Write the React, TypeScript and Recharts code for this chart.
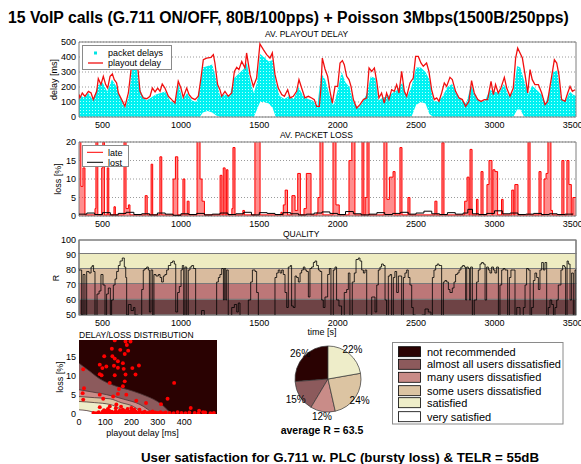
import {
  Area,
  CartesianGrid,
  Cell,
  ComposedChart,
  Line,
  Pie,
  PieChart,
  ReferenceArea,
  Scatter,
  XAxis,
  YAxis,
  ZAxis,
} from "recharts";

const FONT = "'Liberation Sans', Arial, Helvetica, sans-serif";

const TIME_TICKS = [500, 1000, 1500, 2000, 2500, 3000, 3500];
const DELAY_TICKS = [0, 100, 200, 300, 400, 500];
const LOSS_TICKS = [0, 5, 10, 15, 20];
const R_TICKS = [50, 60, 70, 80, 90, 100];
const DIST_X_TICKS = [0, 100, 200, 300, 400];
const DIST_Y_TICKS = [0, 5, 10, 15];

// [time s, playout delay ms]
const PLAYOUT = [
  [350, 150], [356, 127], [371, 160], [388, 138], [410, 171], [427, 160], [441, 116], [463, 171],
  [473, 256], [490, 216], [505, 271], [520, 216], [533, 193], [548, 271], [563, 287], [575, 249],
  [590, 227], [601, 160], [622, 116], [643, 71], [665, 160], [682, 316], [697, 380], [712, 400],
  [728, 300], [739, 171], [760, 127], [782, 122], [803, 138], [818, 193], [835, 167], [852, 193],
  [867, 171], [881, 220], [898, 193], [920, 138], [941, 116], [962, 93], [983, 238], [1000, 193],
  [1015, 131], [1037, 193], [1052, 149], [1069, 127], [1090, 116], [1111, 138], [1128, 260],
  [1143, 382], [1164, 393], [1192, 398], [1207, 416], [1217, 360], [1234, 216], [1249, 182],
  [1260, 138], [1281, 171], [1302, 138], [1324, 160], [1341, 304], [1356, 331], [1370, 316],
  [1388, 371], [1409, 327], [1419, 427], [1441, 282], [1462, 204], [1483, 260], [1504, 487],
  [1526, 449], [1547, 416], [1568, 393], [1583, 427], [1600, 282], [1621, 193], [1643, 149],
  [1660, 138], [1681, 182], [1696, 127], [1717, 138], [1738, 171], [1753, 249], [1770, 193],
  [1791, 127], [1813, 138], [1834, 127], [1851, 116], [1866, 71], [1883, 71], [1893, 193],
  [1902, 393], [1919, 320], [1936, 271], [1951, 171], [1966, 93], [1983, 204], [2000, 204],
  [2015, 360], [2030, 376], [2042, 349], [2057, 271], [2072, 249], [2085, 204], [2100, 116],
  [2121, 60], [2142, 82], [2164, 116], [2185, 127], [2200, 327], [2217, 304], [2234, 327],
  [2249, 238], [2263, 127], [2280, 160], [2297, 93], [2312, 160], [2327, 116], [2344, 182],
  [2361, 171], [2376, 216], [2391, 160], [2408, 304], [2425, 171], [2440, 138], [2461, 227],
  [2482, 260], [2497, 404], [2514, 404], [2531, 360], [2546, 338], [2567, 360], [2582, 304],
  [2599, 182], [2616, 116], [2631, 127], [2646, 104], [2663, 160], [2680, 227], [2695, 204],
  [2716, 264], [2731, 249], [2752, 171], [2774, 127], [2795, 116], [2816, 71], [2837, 104],
  [2854, 242], [2871, 160], [2893, 116], [2914, 104], [2935, 116], [2956, 116], [2978, 238],
  [2993, 149], [3007, 216], [3024, 160], [3041, 193], [3063, 264], [3078, 193], [3099, 138],
  [3120, 193], [3135, 393], [3148, 460], [3163, 427], [3178, 393], [3195, 282], [3212, 160],
  [3227, 316], [3241, 249], [3258, 216], [3280, 216], [3301, 160], [3322, 82], [3339, 104],
  [3354, 204], [3365, 271], [3382, 382], [3397, 360], [3411, 282], [3428, 116], [3450, 104],
  [3467, 160], [3482, 204], [3497, 171], [3514, 182],
];

// [time s, lowest packet delay ms, highest packet delay ms]
const PACKETS = [
  [350, 0, 150], [380, 0, 130], [410, 0, 160], [440, 0, 110], [470, 0, 210], [500, 0, 230],
  [530, 0, 170], [560, 0, 250], [590, 0, 200], [620, 0, 110], [645, 0, 60], [670, 0, 150],
  [690, 0, 350], [710, 0, 390], [730, 0, 240], [750, 0, 150], [780, 0, 110], [810, 0, 130],
  [840, 0, 150], [870, 0, 160], [900, 0, 170], [930, 0, 110], [960, 0, 90], [985, 0, 220],
  [1010, 0, 120], [1040, 0, 160], [1070, 0, 110], [1100, 0, 100], [1120, 0, 200], [1140, 30, 330],
  [1170, 40, 340], [1200, 30, 350], [1225, 10, 250], [1250, 0, 140], [1280, 0, 150], [1310, 0, 140],
  [1340, 0, 260], [1370, 0, 290], [1400, 0, 320], [1420, 0, 360], [1445, 0, 230], [1465, 0, 160],
  [1485, 50, 230], [1505, 100, 420], [1530, 100, 400], [1560, 90, 370], [1585, 60, 380],
  [1605, 0, 230], [1630, 0, 140], [1660, 0, 120], [1690, 0, 140], [1720, 0, 120], [1750, 0, 200],
  [1780, 0, 140], [1810, 0, 120], [1840, 0, 110], [1870, 0, 70], [1895, 0, 290], [1920, 0, 250],
  [1950, 0, 140], [1975, 0, 80], [2000, 0, 180], [2025, 0, 300], [2050, 0, 230], [2075, 0, 200],
  [2100, 0, 100], [2130, 0, 60], [2160, 0, 100], [2190, 0, 170], [2210, 0, 270], [2240, 0, 260],
  [2260, 0, 110], [2290, 0, 130], [2320, 0, 140], [2350, 0, 160], [2380, 0, 180], [2410, 0, 230],
  [2440, 0, 130], [2470, 0, 200], [2500, 80, 330], [2530, 100, 330], [2560, 90, 300],
  [2585, 20, 250], [2610, 0, 110], [2640, 0, 100], [2670, 0, 140], [2700, 0, 200], [2730, 0, 220],
  [2760, 0, 150], [2790, 0, 110], [2820, 0, 90], [2850, 0, 210], [2880, 0, 140], [2910, 0, 100],
  [2940, 0, 110], [2970, 0, 180], [3000, 0, 170], [3030, 0, 160], [3060, 0, 220], [3090, 0, 140],
  [3120, 0, 170], [3145, 50, 340], [3165, 50, 330], [3190, 0, 240], [3215, 0, 150], [3240, 0, 210],
  [3270, 0, 180], [3300, 0, 150], [3325, 0, 90], [3350, 0, 170], [3375, 0, 300], [3400, 0, 310],
  [3425, 0, 120], [3455, 0, 110], [3480, 0, 170], [3500, 0, 150], [3520, 0, 140],
];

// [time s, late loss %] (value holds until next time)
const LATE = [
  [350, 25], [362, 8], [375, 13], [388, 0.3], [452, 2], [458, 25], [470, 0.3], [495, 13],
  [502, 25], [512, 0.3], [530, 13], [540, 0.3], [573, 2.5], [582, 0.3], [637, 25], [650, 2],
  [665, 3], [675, 0.3], [772, 5.5], [785, 0.3], [810, 14], [820, 0.3], [866, 16], [878, 0.3],
  [950, 10], [965, 16], [980, 0.3], [1013, 10], [1025, 0.3], [1040, 4], [1052, 0.3], [1103, 25],
  [1122, 10], [1135, 4], [1150, 0.3], [1250, 11], [1262, 0.3], [1270, 13], [1282, 0.3],
  [1290, 12.5], [1300, 0.3], [1325, 2], [1332, 18.5], [1345, 0.3], [1395, 1.5], [1405, 0.3],
  [1472, 25], [1505, 0.3], [1638, 1], [1645, 0.3], [1653, 3], [1665, 7], [1680, 0.3], [1708, 5.5],
  [1728, 1.5], [1745, 11.5], [1762, 0.3], [1785, 2], [1800, 11.5], [1830, 0.3], [1868, 1],
  [1874, 5], [1887, 25], [1906, 0.3], [1970, 25], [1989, 3], [2010, 0.3], [2072, 15], [2090, 25],
  [2110, 0.3], [2155, 25], [2167, 0.3], [2175, 5], [2187, 25], [2200, 0.3], [2295, 25],
  [2314, 4.5], [2330, 10.5], [2353, 12], [2366, 0.3], [2397, 18.5], [2410, 0.3], [2448, 5],
  [2461, 0.3], [2620, 4], [2633, 0.3], [2665, 19.8], [2678, 0.3], [2810, 4], [2825, 10.5],
  [2838, 0.3], [2844, 18], [2857, 0.3], [2885, 4.5], [2895, 0.3], [2914, 12], [2927, 0.3],
  [2952, 8.5], [2965, 15], [2984, 0.3], [2990, 12.5], [3003, 12], [3020, 0.3], [3045, 4.5],
  [3055, 0.3], [3110, 7], [3123, 0.3], [3130, 8.5], [3150, 0.3], [3214, 25], [3227, 0.3],
  [3284, 12], [3297, 0.3], [3316, 10], [3329, 11.5], [3341, 25], [3360, 1.5], [3370, 0.3],
  [3430, 15], [3443, 0.3], [3462, 15], [3475, 8.5], [3490, 0.3], [3500, 5], [3520, 5],
];

// [time s, lost %]
const LOST = [
  [350, 0.5], [400, 0.8], [450, 0.4], [500, 0.9], [550, 0.3], [600, 0.7], [650, 1.0], [700, 0.4],
  [750, 0.6], [800, 0.3], [850, 0.8], [900, 0.5], [950, 0.2], [1000, 0.6], [1050, 0.4], [1100, 0.7],
  [1150, 0.3], [1200, 0.5], [1250, 0.8], [1300, 0.4], [1350, 0.6], [1400, 1.0], [1450, 0.3],
  [1500, 0.9], [1550, 0.7], [1600, 0.4], [1650, 0.9], [1700, 0.6], [1750, 0.3], [1800, 0.5],
  [1850, 0.8], [1900, 1.1], [1950, 0.7], [2000, 0.4], [2050, 1.2], [2100, 0.6], [2150, 0.3],
  [2200, 0.5], [2250, 0.9], [2300, 0.4], [2350, 0.7], [2400, 1.0], [2450, 0.5], [2500, 0.8],
  [2550, 1.3], [2600, 0.6], [2650, 0.4], [2700, 0.9], [2750, 0.5], [2800, 0.8], [2830, 1.8],
  [2860, 0.6], [2900, 0.4], [2950, 0.7], [3000, 1.4], [3050, 0.6], [3100, 0.8], [3150, 0.4],
  [3200, 0.5], [3250, 0.7], [3300, 0.4], [3350, 0.6], [3400, 0.4], [3450, 0.5], [3500, 0.6],
];

// [time s, R factor]
const QUALITY = [
  [350, 80], [367, 50], [376, 77], [388, 45], [399, 79], [414, 78], [427, 82], [435, 83], [443, 79],
  [452, 45], [465, 64], [478, 66], [490, 77], [503, 70], [516, 45], [526, 64], [537, 68], [550, 45],
  [558, 60], [569, 70], [580, 74], [590, 79], [601, 83], [612, 86], [626, 88], [639, 82], [648, 75],
  [654, 50], [665, 57], [682, 53], [697, 55], [707, 50], [728, 45], [750, 67], [760, 80], [771, 81],
  [782, 82], [792, 80], [799, 52], [809, 80], [820, 45], [828, 77], [841, 76], [856, 77], [867, 75],
  [877, 72], [888, 76], [898, 77], [909, 80], [920, 83], [935, 85], [947, 86], [958, 84], [967, 52],
  [979, 65], [990, 69], [1001, 80], [1009, 83], [1018, 45], [1026, 82], [1037, 45], [1047, 80],
  [1058, 82], [1069, 83], [1081, 81], [1094, 45], [1132, 53], [1149, 45], [1228, 72], [1239, 75],
  [1249, 77], [1260, 81], [1271, 60], [1277, 81], [1286, 60], [1292, 80], [1302, 45], [1324, 55],
  [1341, 57], [1356, 52], [1366, 58], [1377, 45], [1430, 60], [1445, 72], [1456, 80], [1473, 79],
  [1483, 65], [1494, 45], [1600, 75], [1611, 78], [1621, 80], [1632, 78], [1643, 80], [1653, 77],
  [1664, 65], [1675, 55], [1685, 82], [1698, 83], [1706, 56], [1717, 55], [1728, 76], [1738, 75],
  [1749, 72], [1760, 78], [1770, 80], [1781, 82], [1791, 80], [1802, 79], [1813, 62], [1823, 81],
  [1834, 82], [1845, 85], [1855, 86], [1866, 83], [1877, 80], [1887, 79], [1898, 60], [1908, 55],
  [1919, 62], [1936, 77], [1947, 81], [1957, 45], [1972, 80], [1983, 82], [1993, 60], [2008, 56],
  [2025, 45], [2042, 65], [2057, 67], [2068, 78], [2078, 45], [2093, 72], [2106, 78], [2117, 87],
  [2132, 88], [2142, 86], [2153, 80], [2164, 78], [2174, 80], [2185, 45], [2217, 62], [2238, 52],
  [2249, 70], [2259, 80], [2270, 82], [2280, 84], [2291, 83], [2302, 60], [2312, 45], [2323, 76],
  [2334, 77], [2344, 45], [2355, 75], [2365, 79], [2376, 65], [2387, 76], [2408, 45], [2419, 75],
  [2429, 78], [2440, 80], [2450, 75], [2461, 70], [2472, 55], [2482, 50], [2497, 45], [2536, 50],
  [2557, 54], [2578, 52], [2595, 45], [2604, 75], [2614, 80], [2625, 83], [2635, 84], [2646, 83],
  [2663, 45], [2674, 72], [2684, 73], [2695, 72], [2706, 67], [2716, 65], [2731, 68], [2742, 72],
  [2752, 77], [2763, 78], [2774, 80], [2786, 82], [2797, 83], [2808, 82], [2816, 60], [2823, 82],
  [2833, 81], [2840, 60], [2848, 82], [2859, 45], [2871, 60], [2886, 72], [2897, 80], [2908, 84],
  [2918, 85], [2929, 84], [2940, 60], [2950, 82], [2961, 80], [2971, 78], [2982, 82], [2993, 80],
  [3003, 78], [3014, 82], [3025, 45], [3035, 70], [3046, 80], [3056, 81], [3067, 80], [3084, 45],
  [3095, 75], [3105, 80], [3120, 80], [3131, 45], [3142, 55], [3152, 55], [3163, 45], [3184, 55],
  [3195, 70], [3205, 81], [3216, 80], [3227, 45], [3237, 55], [3248, 73], [3258, 78], [3269, 75],
  [3280, 67], [3290, 80], [3301, 85], [3312, 80], [3322, 85], [3333, 45], [3343, 55], [3354, 60],
  [3365, 57], [3376, 45], [3386, 55], [3397, 60], [3407, 70], [3424, 80], [3435, 83], [3446, 82],
  [3454, 45], [3463, 86], [3471, 84], [3482, 60], [3492, 78], [3503, 45], [3514, 80], [3520, 80],
];

// R band limits (bottom to top)
const R_BANDS = [50, 60.5, 71, 81, 91, 100];

// contour boundaries of the delay/loss map: [delay ms, loss %]
const CONTOUR_ALMOST = [[0, 13.4], [40, 11.3], [80, 9.2], [130, 7.6], [206, 6.0], [260, 4.6], [307, 2.9], [335, 1.2], [352, 0]];
const CONTOUR_MANY = [[0, 6.4], [50, 5.8], [105, 5.1], [170, 3.9], [232, 2.5], [260, 1.3], [282, 0]];
const CONTOUR_SOME = [[0, 4.6], [60, 4.3], [118, 4.0], [160, 3.0], [206, 2.0], [230, 0.9], [244, 0]];
const CONTOUR_SAT = [[0, 3.3], [60, 3.0], [118, 2.5], [155, 1.4], [181, 0]];
const CONTOUR_VERY = [[0, 1.1], [30, 0.9], [54, 0.5], [80, 0]];

// [playout delay ms, loss %] per call interval
const SCATTER = [
  [136, 19.4], [177, 19.1], [196, 19.1], [182, 18.2], [125, 17.2], [157, 16.9], [187, 16.7],
  [96, 15.2], [127, 15.2], [174, 15.8], [136, 14.6], [148, 13.9], [167, 13.4], [79, 13],
  [104, 12.5], [133, 12.7], [148, 12.2], [170, 11.9], [228, 12.8], [203, 12.1], [16, 11.8],
  [89, 12.1], [79, 10.5], [86, 10.2], [136, 10.2], [177, 10.4], [215, 10.4], [174, 8.6],
  [362, 8.2], [117, 8.2], [167, 7.3], [152, 6.6], [19, 6.8], [14, 5.5], [79, 5.1], [130, 4.6],
  [148, 5.3], [180, 5.1], [16, 3.8], [92, 4.0], [218, 3.5], [255, 2.9], [312, 2.6], [337, 4.0],
  [142, 2.5], [79, 1.8], [117, 2.0], [167, 1.1], [199, 1.6], [230, 1.1], [280, 0.7], [425, 1.6],
  [457, 0.9], [472, 0.5], [513, 0.3], [55, 0.3], [65, 0.2], [75, 0.5], [85, 0.1], [90, 0.6],
  [95, 0.3], [100, 0.8], [105, 0.2], [110, 0.5], [115, 0.9], [120, 0.3], [125, 0.6], [130, 0.1],
  [135, 0.4], [140, 0.7], [145, 0.2], [150, 0.5], [155, 0.9], [160, 0.3], [165, 0.6], [170, 0.2],
  [175, 0.8], [180, 0.4], [185, 0.1], [190, 0.6], [195, 0.3], [200, 0.9], [205, 0.2], [210, 0.5],
  [215, 0.7], [220, 0.3], [225, 0.1], [230, 0.6], [240, 0.4], [245, 0.2], [250, 0.6], [260, 0.3],
  [270, 0.5], [280, 0.2], [290, 0.4], [300, 0.3], [310, 0.5], [320, 0.2], [330, 0.4], [345, 0.3],
  [360, 0.2], [375, 0.5], [390, 0.3], [405, 0.2], [420, 0.4], [440, 0.3], [455, 0.2], [480, 0.4],
  [500, 0.2], [110, 1.3], [140, 1.5], [185, 1.3], [210, 1.2], [160, 1.9], [95, 1.0],
];

const CATEGORIES = [
  "not recommended",
  "almost all users dissatisfied",
  "many users dissatisfied",
  "some users dissatisfied",
  "satisfied",
  "very satisfied",
];
const SHARES = [26, 15, 12, 24, 22, 0];
const AVERAGE_R = 63.5;

const CAT_COLORS = ["#2a0202", "#8c5a5c", "#c98c88", "#dcc4a2", "#eeedc9", "#ffffff"];
const BAND_COLORS = ["#6e4345", "#bd7778", "#d9bb9e", "#eeecc2", "#ffffff"];

const tick = { fontSize: 9, fill: "#000" };
const timeX = {
  type: "number" as const,
  dataKey: "t",
  domain: [350, 3520],
  ticks: TIME_TICKS,
  interval: 0,
  allowDataOverflow: true,
  tickLine: false,
  axisLine: false,
  tickSize: 3,
  tickMargin: 2,
  height: 20,
  tick,
};
const yBase = {
  type: "number" as const,
  width: 39,
  interval: 0,
  allowDataOverflow: true,
  tickLine: false,
  axisLine: false,
  tickSize: 3,
  tickMargin: 0,
  tick,
};
const margin = { top: 14, right: 5, bottom: 0, left: 40 };

const playoutData = PLAYOUT.map(([t, v]) => ({ t, v }));
const packetData = PACKETS.map(([t, lo, hi]) => ({ t, range: [lo, hi] }));
const lateData = LATE.map(([t, v]) => ({ t, v }));
const lostData = LOST.map(([t, v]) => ({ t, v }));
const qualityData = QUALITY.map(([t, v]) => ({ t, v }));
const toDist = (rows: number[][]) => rows.map(([d, l]) => ({ d, l }));
const pieData = SHARES.map((value, i) => ({ name: CATEGORIES[i], value, color: CAT_COLORS[i] })).filter(
  (s) => s.value > 0
);

const RAD = Math.PI / 180;
const pieLabel = (p: any) => {
  const r = 38;
  const x = p.cx + r * Math.cos(-p.midAngle * RAD);
  const y = p.cy + r * Math.sin(-p.midAngle * RAD);
  return (
    <text x={x} y={y} textAnchor="middle" dominantBaseline="central" fontSize={10} fill="#000">
      {p.value}%
    </text>
  );
};

const legendRows = [351.7, 364.3, 377.3, 390.7, 402.7, 416.7];

export default function App() {
  return (
    <div
      style={{
        position: "absolute",
        left: 0,
        top: 0,
        width: 581,
        height: 464,
        background: "#fff",
        fontFamily: FONT,
      }}
    >
      {/* AV. PLAYOUT DELAY */}
      <div style={{ position: "absolute", left: 0, top: 28 }}>
        <ComposedChart width={581} height={109} margin={margin}>
          <defs>
            <pattern id="pkt" width="3" height="3" patternUnits="userSpaceOnUse">
              <rect width="3" height="3" fill="#00f2f2" />
              <rect x="2" y="1" width="1" height="1" fill="#b8ffff" />
            </pattern>
          </defs>
          <XAxis {...timeX} />
          <YAxis {...yBase} domain={[0, 500]} ticks={DELAY_TICKS} />
          <CartesianGrid vertical={false} stroke="#9a9a9a" strokeDasharray="1 2" />
          <Area
            data={packetData}
            dataKey="range"
            type="linear"
            stroke="none"
            fill="url(#pkt)"
            fillOpacity={1}
            isAnimationActive={false}
          />
          <Line
            data={playoutData}
            dataKey="v"
            type="linear"
            stroke="#f01010"
            strokeWidth={1.3}
            dot={false}
            isAnimationActive={false}
          />
          <ReferenceArea x1={350} x2={3520} y1={0} y2={500} fill="none" stroke="#7f7f7f" />
        </ComposedChart>
      </div>

      {/* AV. PACKET LOSS */}
      <div style={{ position: "absolute", left: 0, top: 128 }}>
        <ComposedChart width={581} height={108} margin={margin}>
          <XAxis {...timeX} />
          <YAxis {...yBase} domain={[0, 20]} ticks={LOSS_TICKS} />
          <CartesianGrid vertical={false} stroke="#9a9a9a" strokeDasharray="1 2" />
          <Area
            data={lateData}
            dataKey="v"
            type="stepAfter"
            stroke="#ff0000"
            strokeWidth={1}
            fill="#ff3030"
            fillOpacity={0.55}
            isAnimationActive={false}
          />
          <Line
            data={lostData}
            dataKey="v"
            type="stepAfter"
            stroke="#000"
            strokeWidth={1}
            dot={false}
            isAnimationActive={false}
          />
          <ReferenceArea x1={350} x2={3520} y1={0} y2={20} fill="none" stroke="#7f7f7f" />
        </ComposedChart>
      </div>

      {/* QUALITY */}
      <div style={{ position: "absolute", left: 0, top: 226 }}>
        <ComposedChart width={581} height={109} margin={margin}>
          <XAxis {...timeX} />
          <YAxis {...yBase} domain={[50, 100]} ticks={R_TICKS} />
          {BAND_COLORS.map((c, i) => (
            <ReferenceArea
              key={i}
              x1={350}
              x2={3520}
              y1={R_BANDS[i]}
              y2={R_BANDS[i + 1]}
              fill={c}
              fillOpacity={1}
              stroke="#7a7a7a"
              strokeWidth={1.2}
            />
          ))}
          <Line
            data={qualityData}
            dataKey="v"
            type="stepAfter"
            stroke="#000"
            strokeOpacity={0.8}
            strokeWidth={1}
            dot={false}
            isAnimationActive={false}
          />
          <ReferenceArea x1={350} x2={3520} y1={50} y2={100} fill="none" stroke="#7f7f7f" />
        </ComposedChart>
      </div>

      {/* DELAY/LOSS DISTRIBUTION */}
      <div style={{ position: "absolute", left: 0, top: 326 }}>
        <ComposedChart width={222} height={112} margin={margin}>
          <XAxis
            type="number"
            dataKey="d"
            domain={[0, 525]}
            ticks={DIST_X_TICKS}
            interval={0}
            allowDataOverflow
            tickLine={false}
            axisLine={false}
            tickSize={3}
            tickMargin={2}
            height={24}
            tick={tick}
          />
          <YAxis {...yBase} domain={[0, 19.5]} ticks={DIST_Y_TICKS} />
          <ZAxis range={[12, 12]} />
          <ReferenceArea x1={0} x2={525} y1={0} y2={19.5} fill={CAT_COLORS[0]} fillOpacity={1} stroke="none" />
          {[CONTOUR_ALMOST, CONTOUR_MANY, CONTOUR_SOME, CONTOUR_SAT, CONTOUR_VERY].map((rows, i) => (
            <Area
              key={i}
              data={toDist(rows)}
              dataKey="l"
              type="monotone"
              stroke="#4a3434"
              strokeWidth={0.8}
              fill={CAT_COLORS[i + 1]}
              fillOpacity={1}
              isAnimationActive={false}
            />
          ))}
          <Scatter data={toDist(SCATTER)} dataKey="l" fill="#ff0000" isAnimationActive={false} />
        </ComposedChart>
      </div>

      {/* pie */}
      <div style={{ position: "absolute", left: 268, top: 334 }}>
        <PieChart width={120} height={100} margin={{ top: 0, right: 0, bottom: 0, left: 0 }}>
          <Pie
            data={pieData}
            dataKey="value"
            cx={60}
            cy={45}
            outerRadius={33}
            startAngle={90}
            endAngle={450}
            stroke="#333"
            strokeWidth={0.7}
            label={pieLabel}
            labelLine={false}
            isAnimationActive={false}
          >
            {pieData.map((s, i) => (
              <Cell key={i} fill={s.color} />
            ))}
          </Pie>
        </PieChart>
      </div>

      <svg
        width={581}
        height={464}
        style={{ position: "absolute", left: 0, top: 0, pointerEvents: "none" }}
      >
        <text x={8} y={22.5} fontSize={15.8} fontWeight="bold">
          15 VoIP calls (G.711 ON/OFF, 80B/100pps) + Poisson 3Mbps(1500B/250pps)
        </text>
        <text x={265} y={37.3} fontSize={8.5}>AV. PLAYOUT DELAY</text>
        <text x={280} y={138} fontSize={8.5}>AV. PACKET LOSS</text>
        <text x={283} y={237.3} fontSize={8.5}>QUALITY</text>
        <text x={79} y={338} fontSize={8.5}>DELAY/LOSS DISTRIBUTION</text>

        <text x={53.5} y={79.5} fontSize={9} textAnchor="middle" dominantBaseline="central" transform="rotate(-90 53.5 79.5)">
          delay [ms]
        </text>
        <text x={58} y={179} fontSize={9} textAnchor="middle" dominantBaseline="central" transform="rotate(-90 58 179)">
          loss [%]
        </text>
        <text x={56} y={278} fontSize={9} textAnchor="middle" dominantBaseline="central" transform="rotate(-90 56 278)">
          R
        </text>
        <text x={60} y={377} fontSize={9} textAnchor="middle" dominantBaseline="central" transform="rotate(-90 60 377)">
          loss [%]
        </text>
        <text x={322} y={335} fontSize={9} textAnchor="middle">time [s]</text>
        <text x={142.5} y={436} fontSize={9} textAnchor="middle">playout delay [ms]</text>

        {/* legend: delay panel */}
        <rect x={82.5} y={45.5} width={89} height={24} fill="#fff" stroke="#8a8a8a" />
        <rect x={94} y={51.5} width={3} height={3} fill="#00e5e5" />
        <line x1={88} y1={63} x2={103} y2={63} stroke="#f01010" strokeWidth={1.3} />
        <text x={108} y={56} fontSize={9}>packet delays</text>
        <text x={108} y={66} fontSize={9}>playout delay</text>

        {/* legend: loss panel */}
        <rect x={82.5} y={145.5} width={46} height={21} fill="#fff" stroke="#8a8a8a" />
        <line x1={87} y1={152.3} x2={103} y2={152.3} stroke="#ff0000" strokeWidth={1} />
        <line x1={87} y1={162.3} x2={103} y2={162.3} stroke="#000" strokeWidth={1} />
        <text x={108} y={155.5} fontSize={9}>late</text>
        <text x={108} y={165.5} fontSize={9}>lost</text>

        {/* category legend */}
        <rect x={392.5} y={342.5} width={170.5} height={81.5} fill="#fff" stroke="#8a8a8a" />
        {CATEGORIES.map((c, i) => (
          <g key={c}>
            <rect x={398.5} y={legendRows[i] - 5} width={22} height={10} fill={CAT_COLORS[i]} stroke="#000" strokeWidth={0.8} />
            <text x={427} y={legendRows[i] + 4} fontSize={11}>{c}</text>
          </g>
        ))}

        <text x={322} y={433.5} fontSize={10.5} fontWeight="bold" textAnchor="middle">
          average R = {AVERAGE_R}
        </text>
        <text x={340} y={461.5} fontSize={13.3} fontWeight="bold" textAnchor="middle">
          User satisfaction for G.711 w. PLC (bursty loss) &amp; TELR = 55dB
        </text>
      </svg>
    </div>
  );
}
